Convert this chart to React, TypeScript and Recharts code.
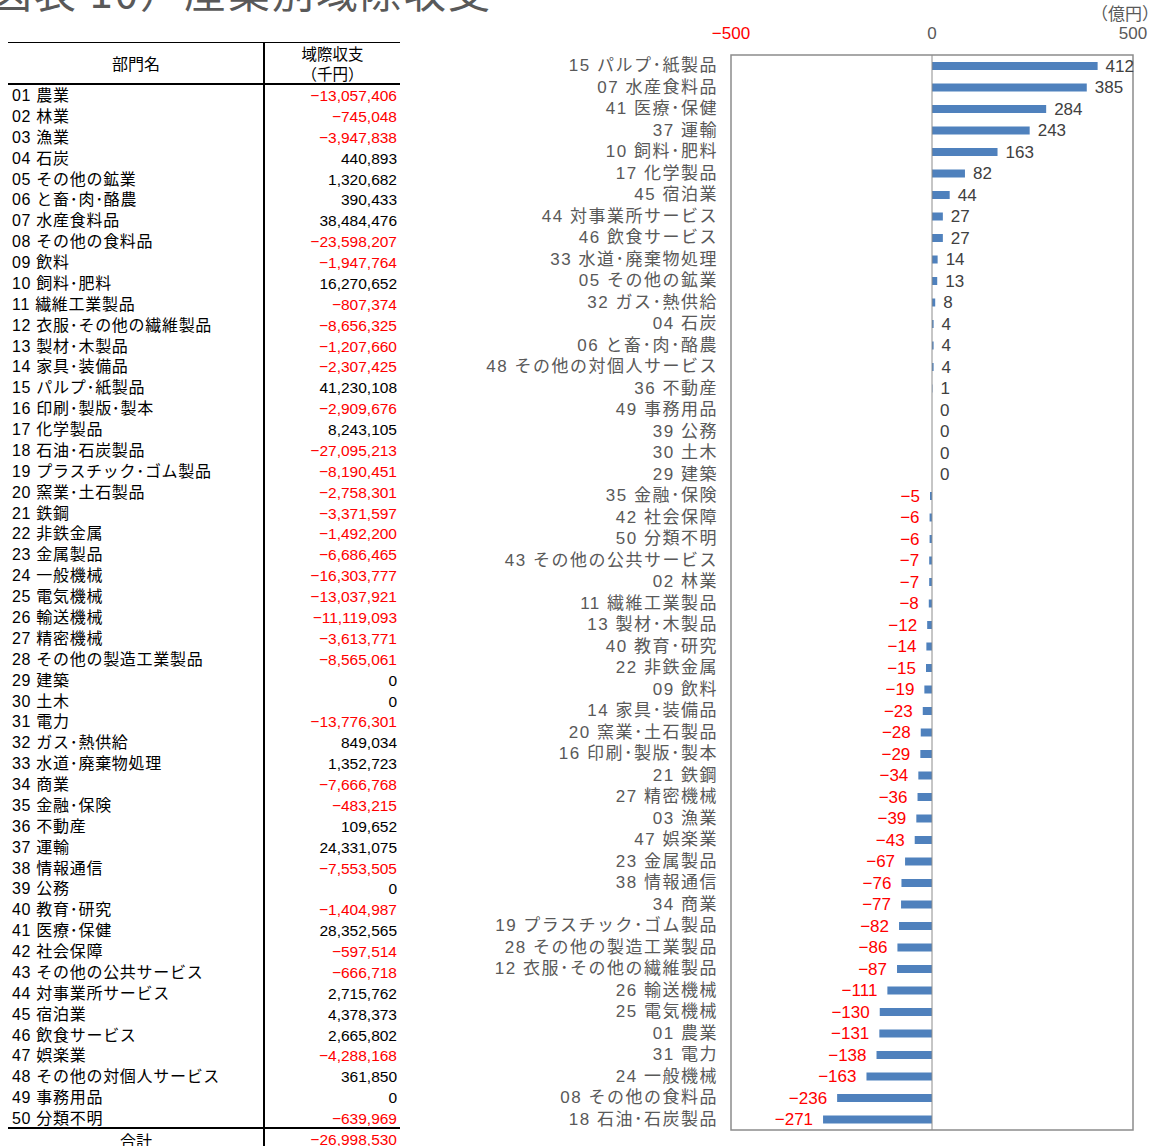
import { Bar, BarChart, LabelList, ReferenceArea, ReferenceLine, XAxis, YAxis } from 'recharts';

// 部門名 (50 sectors) and 域際収支 in 千円
const sectorNames = [
  '01 農業', '02 林業', '03 漁業', '04 石炭', '05 その他の鉱業',
  '06 と畜･肉･酪農', '07 水産食料品', '08 その他の食料品', '09 飲料', '10 飼料･肥料',
  '11 繊維工業製品', '12 衣服･その他の繊維製品', '13 製材･木製品', '14 家具･装備品', '15 パルプ･紙製品',
  '16 印刷･製版･製本', '17 化学製品', '18 石油･石炭製品', '19 プラスチック･ゴム製品', '20 窯業･土石製品',
  '21 鉄鋼', '22 非鉄金属', '23 金属製品', '24 一般機械', '25 電気機械',
  '26 輸送機械', '27 精密機械', '28 その他の製造工業製品', '29 建築', '30 土木',
  '31 電力', '32 ガス･熱供給', '33 水道･廃棄物処理', '34 商業', '35 金融･保険',
  '36 不動産', '37 運輸', '38 情報通信', '39 公務', '40 教育･研究',
  '41 医療･保健', '42 社会保障', '43 その他の公共サービス', '44 対事業所サービス', '45 宿泊業',
  '46 飲食サービス', '47 娯楽業', '48 その他の対個人サービス', '49 事務用品', '50 分類不明'
];

const balancesThousandYen = [
  -13057406, -745048, -3947838, 440893, 1320682,
  390433, 38484476, -23598207, -1947764, 16270652,
  -807374, -8656325, -1207660, -2307425, 41230108,
  -2909676, 8243105, -27095213, -8190451, -2758301,
  -3371597, -1492200, -6686465, -16303777, -13037921,
  -11119093, -3613771, -8565061, 0, 0,
  -13776301, 849034, 1352723, -7666768, -483215,
  109652, 24331075, -7553505, 0, -1404987,
  28352565, -597514, -666718, 2715762, 4378373,
  2665802, -4288168, 361850, 0, -639969
];

const totalThousandYen = -26998530;

const axisTicks = [-500, 0, 500];

const RED = '#ff0000';
const BAR_BLUE = '#4f81bd';
const GRAY_TEXT = '#595959';
const FRAME = '#8c8c8c';
const JP = '"Noto Sans CJK JP", "Noto Sans", sans-serif';
const NUM = '"Liberation Sans", "Noto Sans CJK JP", sans-serif';

const ROW0_Y = 96;
const ROW_STEP = 20.88;

const minus = (v: number, s: string) => (v < 0 ? `\u2212${s}` : s);
const fmtThousand = (v: number) => minus(v, Math.abs(v).toLocaleString('en-US'));

// chart rows: 千円 -> 億円, largest surplus on top
const chartRows = sectorNames
  .map((name, i) => ({ name, exact: balancesThousandYen[i] }))
  .sort((a, b) => a.exact - b.exact)
  .reverse()
  .map((r) => ({ name: r.name, oku: Math.round(r.exact / 100000) || 0 }));

function XTick(props: any) {
  const { x, y, payload } = props;
  const v = payload.value as number;
  return (
    <text x={x} y={y - 14} textAnchor="middle" dominantBaseline="central" fontFamily={NUM} fontSize={17} fill={v < 0 ? RED : GRAY_TEXT}>
      {minus(v, String(Math.abs(v)))}
    </text>
  );
}

function YTick(props: any) {
  const { x, y, payload } = props;
  return (
    <text x={x - 5} y={y} textAnchor="end" dominantBaseline="central" fontFamily={NUM} fontSize={17} letterSpacing={1.5} fill={GRAY_TEXT}>
      {payload.value}
    </text>
  );
}

function ValueLabel(props: any) {
  const { x, y, width, height, value } = props;
  const left = Math.min(x, x + width);
  const right = Math.max(x, x + width);
  const cy = y + height / 2;
  if (value < 0) {
    return (
      <text x={left - 10} y={cy} textAnchor="end" dominantBaseline="central" fontFamily={NUM} fontSize={17} fill={RED}>
        {minus(value, String(Math.abs(value)))}
      </text>
    );
  }
  return (
    <text x={right + 8} y={cy} textAnchor="start" dominantBaseline="central" fontFamily={NUM} fontSize={17} fill="#404040">
      {value}
    </text>
  );
}

function BalanceTable() {
  const cell = { position: 'absolute' as const, height: 20, lineHeight: '20px', fontSize: 16, whiteSpace: 'nowrap' as const };
  return (
    <div style={{ position: 'absolute', left: 0, top: 0, width: 420, height: 1146, color: '#000' }}>
      <div style={{ position: 'absolute', left: 8, top: 42, width: 392, height: 1, background: '#000' }} />
      <div style={{ position: 'absolute', left: 8, top: 83, width: 392, height: 2, background: '#000' }} />
      <div style={{ position: 'absolute', left: 8, top: 1127, width: 392, height: 2, background: '#000' }} />
      <div style={{ position: 'absolute', left: 263, top: 42, width: 2, height: 1104, background: '#000' }} />

      <div style={{ ...cell, left: 8, width: 256, top: 53, textAlign: 'center', fontFamily: JP }}>部門名</div>
      <div style={{ ...cell, left: 265, width: 135, top: 44, height: 18, lineHeight: '18px', fontSize: 15.5, textAlign: 'center', fontFamily: JP }}>域際収支</div>
      <div style={{ ...cell, left: 265, width: 135, top: 64, height: 18, lineHeight: '18px', fontSize: 15.5, textAlign: 'center', fontFamily: JP }}>（千円）</div>

      {sectorNames.map((name, i) => {
        const top = ROW0_Y + i * ROW_STEP - 10;
        const v = balancesThousandYen[i];
        return (
          <div key={name}>
            <div style={{ ...cell, left: 12, top, fontFamily: NUM, letterSpacing: 0.7 }}>{name}</div>
            <div style={{ ...cell, left: 265, width: 132, top, textAlign: 'right', fontFamily: NUM, fontSize: 15.5, color: v < 0 ? RED : '#000' }}>
              {fmtThousand(v)}
            </div>
          </div>
        );
      })}

      <div style={{ ...cell, left: 8, width: 256, top: 1130, textAlign: 'center', fontFamily: JP }}>合計</div>
      <div style={{ ...cell, left: 265, width: 132, top: 1130, textAlign: 'right', fontFamily: NUM, fontSize: 15.5, color: totalThousandYen < 0 ? RED : '#000' }}>
        {fmtThousand(totalThousandYen)}
      </div>
    </div>
  );
}

export default function App() {
  return (
    <div style={{ position: 'absolute', left: 0, top: 0, width: 1158, height: 1146, overflow: 'hidden', background: '#fff' }}>
      <div style={{ position: 'absolute', left: -10, top: -31, height: 42, lineHeight: '42px', fontSize: 42, letterSpacing: 2, fontFamily: JP, color: GRAY_TEXT, whiteSpace: 'nowrap' }}>
        図表 10）産業別域際収支
      </div>
      <div style={{ position: 'absolute', left: 1091, top: 3, lineHeight: '20px', fontSize: 17, fontFamily: JP, color: GRAY_TEXT, whiteSpace: 'nowrap' }}>
        （億円）
      </div>

      <BalanceTable />

      <div style={{ position: 'absolute', left: 0, top: 0 }}>
        <BarChart width={1158} height={1146} data={chartRows} layout="vertical" margin={{ top: 0, right: 25, bottom: 16, left: 0 }}>
          <XAxis type="number" orientation="top" domain={[-500, 500]} ticks={axisTicks} height={55} axisLine={false} tickLine={false} tick={<XTick />} interval={0} />
          <YAxis type="category" dataKey="name" width={731} axisLine={false} tickLine={false} tick={<YTick />} interval={0} />
          <ReferenceArea x1={-500} x2={500} fill="none" stroke={FRAME} strokeWidth={1.5} ifOverflow="visible" />
          <ReferenceLine x={0} stroke={FRAME} strokeWidth={1} />
          <Bar
            dataKey="oku"
            fill={BAR_BLUE}
            barSize={8}
            minPointSize={(v: number) => (v === 0 ? 0.01 : 0)}
            isAnimationActive={false}
          >
            <LabelList dataKey="oku" content={<ValueLabel />} />
          </Bar>
        </BarChart>
      </div>
    </div>
  );
}
